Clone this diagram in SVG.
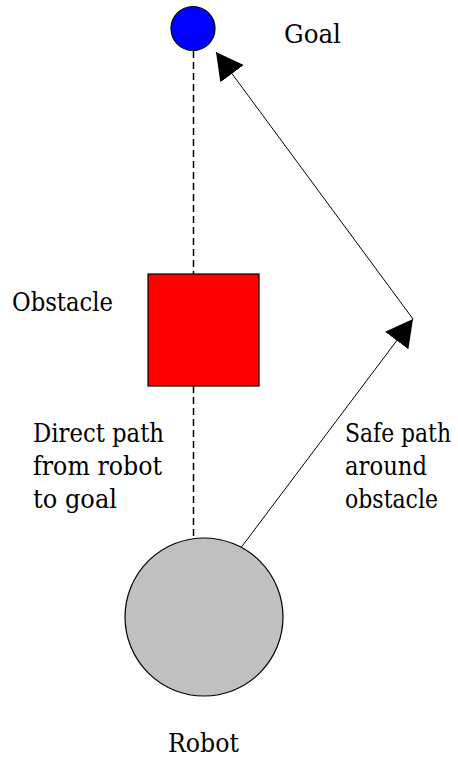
<svg xmlns="http://www.w3.org/2000/svg" width="458" height="758" viewBox="0 0 458 758">
  <style>
    text { font-family: 'DejaVu Serif', 'Liberation Serif', serif; font-size: 26px; fill: #000; }
    .outline { stroke: #000; stroke-width: 1.2; }
    .dash { stroke: #000; stroke-width: 1.5; stroke-dasharray: 7 4; fill: none; }
    .path { stroke: #000; stroke-width: 1; fill: none; }
  </style>
  <defs>
    <marker id="arrowhead" markerUnits="userSpaceOnUse" markerWidth="28" markerHeight="30" refX="27" refY="14.5" orient="auto">
      <path d="M0,0 L27,14.5 L0,29 z" fill="#000"/>
    </marker>
  </defs>
  <rect width="458" height="758" fill="#fff"/>

  <g id="connectors">
    <line class="dash" x1="193.5" y1="51" x2="193.5" y2="274"/>
    <line class="dash" x1="193.5" y1="386" x2="193.5" y2="539"/>
    <line class="path" x1="240" y1="549" x2="413" y2="319" marker-end="url(#arrowhead)"/>
    <line class="path" x1="413" y1="319" x2="216" y2="52" marker-end="url(#arrowhead)"/>
  </g>

  <g id="goal">
    <circle class="outline" cx="193" cy="28.5" r="22" fill="#0000ff"/>
    <text x="284" y="43" textLength="57" lengthAdjust="spacingAndGlyphs">Goal</text>
  </g>

  <g id="obstacle">
    <rect class="outline" x="148" y="274" width="111" height="112" fill="#ff0000"/>
    <text x="12" y="311" textLength="101" lengthAdjust="spacingAndGlyphs">Obstacle</text>
  </g>

  <g id="robot">
    <circle class="outline" cx="204" cy="617" r="79" fill="#c0c0c0"/>
    <text x="168" y="752" textLength="71" lengthAdjust="spacingAndGlyphs">Robot</text>
  </g>

  <g id="direct-label">
    <text x="33" y="442" textLength="131" lengthAdjust="spacingAndGlyphs">Direct path</text>
    <text x="33" y="475" textLength="129" lengthAdjust="spacingAndGlyphs">from robot</text>
    <text x="33" y="508" textLength="84" lengthAdjust="spacingAndGlyphs">to goal</text>
  </g>

  <g id="safe-label">
    <text x="345" y="442" textLength="106" lengthAdjust="spacingAndGlyphs">Safe path</text>
    <text x="345" y="475" textLength="82" lengthAdjust="spacingAndGlyphs">around</text>
    <text x="345" y="508" textLength="93" lengthAdjust="spacingAndGlyphs">obstacle</text>
  </g>
</svg>
